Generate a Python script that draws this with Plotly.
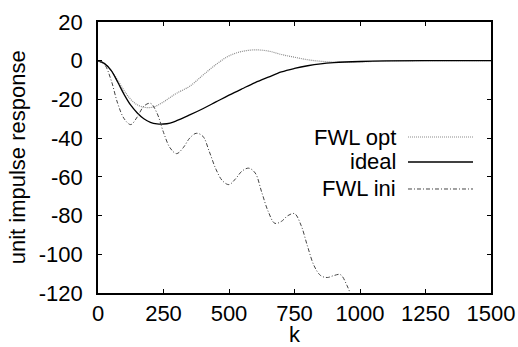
import plotly.graph_objects as go

# ---- data ----
k_ideal = [0, 25, 50, 75, 100, 125, 150, 175, 200, 225, 250, 275, 300, 350, 400, 450, 500, 550, 600, 650, 700, 750, 800, 850, 900, 1000, 1100, 1250, 1500]
ideal = [0, -1.5, -5, -11, -17.5, -23, -27, -30, -31.8, -32.6, -32.7, -32.2, -31, -28, -24.8, -21.3, -17.8, -14.5, -11.3, -8.5, -5.8, -4, -2.6, -1.6, -1, -0.4, -0.1, 0, 0]

k_opt = [0, 25, 50, 75, 100, 125, 150, 175, 200, 225, 250, 275, 300, 350, 400, 450, 500, 550, 600, 650, 700, 750, 800, 850, 900, 950, 1000, 1100, 1250, 1500]
fwl_opt = [0, -1.5, -5, -10, -15.5, -20, -22.8, -24, -24.2, -23.2, -21.3, -19, -16.8, -13.2, -7.5, -2, 2.5, 4.8, 5.6, 5, 3.2, 1.8, 0.5, -0.3, -0.7, -0.8, -0.6, -0.2, 0, 0]

k_ini = [0, 25, 50, 75, 100, 125, 150, 175, 200, 225, 250, 275, 300, 325, 350, 375, 400, 425, 450, 475, 500, 525, 550, 575, 600, 625, 650, 675, 700, 725, 750, 775, 800, 825, 850, 875, 900, 925, 950, 975, 1000]
fwl_ini = [0, -2, -10, -22, -30, -33, -29, -23.5, -22, -27, -37, -45, -48, -45, -40, -37.5, -39, -47, -56, -62, -64, -61, -57, -55.5, -58, -68, -78, -84, -83, -80, -79, -85, -96, -106, -111, -112, -111, -110.5, -116, -125, -135]

series_names = ["FWL opt", "ideal", "FWL ini"]
x_ticks = [0, 250, 500, 750, 1000, 1250, 1500]
y_ticks = [20, 0, -20, -40, -60, -80, -100, -120]
x_title = "k"
y_title = "unit impulse response"

FONT = "Liberation Sans, Arial, sans-serif"
FS = 22
styles = {
    "FWL opt": dict(color="#8a8a8a", width=1.2, dash="1px,1px"),
    "ideal": dict(color="black", width=1.3, dash="solid"),
    "FWL ini": dict(color="#444444", width=1.0, dash="4px,2px,1px,2px"),
}

fig = go.Figure()
for name, kx, vy in [("FWL opt", k_opt, fwl_opt), ("ideal", k_ideal, ideal), ("FWL ini", k_ini, fwl_ini)]:
    fig.add_trace(go.Scatter(x=kx, y=vy, mode="lines", name=name,
                             line=dict(shape="spline", smoothing=1.0, **styles[name]),
                             showlegend=False))

# manual legend: text right-aligned, line sample to the right
row_y = [0.5756, 0.4834, 0.3838]
for name, yy in zip(series_names, row_y):
    fig.add_annotation(x=0.7634, y=yy, xref="paper", yref="paper", text=name,
                       showarrow=False, xanchor="right", yanchor="middle",
                       font=dict(family=FONT, size=FS, color="black"))
    fig.add_shape(type="line", xref="paper", yref="paper", x0=0.7888, x1=0.9542, y0=yy, y1=yy,
                  line=styles[name])

# axis titles as annotations for precise placement
fig.add_annotation(x=0.5, y=-0.152, xref="paper", yref="paper", text=x_title, showarrow=False,
                   xanchor="center", yanchor="middle", font=dict(family=FONT, size=FS, color="black"))
fig.add_annotation(x=-0.204, y=0.5, xref="paper", yref="paper", text=y_title, showarrow=False,
                   textangle=-90, xanchor="center", yanchor="middle",
                   font=dict(family=FONT, size=FS, color="black"))

axis_common = dict(showline=True, linecolor="black", linewidth=1.5, mirror="ticks",
                   ticks="inside", ticklen=4, tickcolor="black", tickwidth=1,
                   showgrid=False, zeroline=False, automargin=False,
                   tickfont=dict(family=FONT, size=FS, color="black"))

fig.update_xaxes(range=[0, 1500], tickvals=x_ticks, ticktext=[str(v) for v in x_ticks],
                 ticklabelstandoff=0, **axis_common)
fig.update_yaxes(range=[-120, 20], tickvals=y_ticks, ticktext=[str(v) for v in y_ticks],
                 ticklabelstandoff=9, **axis_common)

fig.update_layout(width=518, height=347, margin=dict(l=98, r=27, t=22, b=54),
                  paper_bgcolor="white", plot_bgcolor="white",
                  font=dict(family=FONT, size=FS, color="black"))

fig.write_html("out.html", config={"displayModeBar": False},
               post_script="document.body.style.margin='0';document.body.style.overflow='hidden';")
